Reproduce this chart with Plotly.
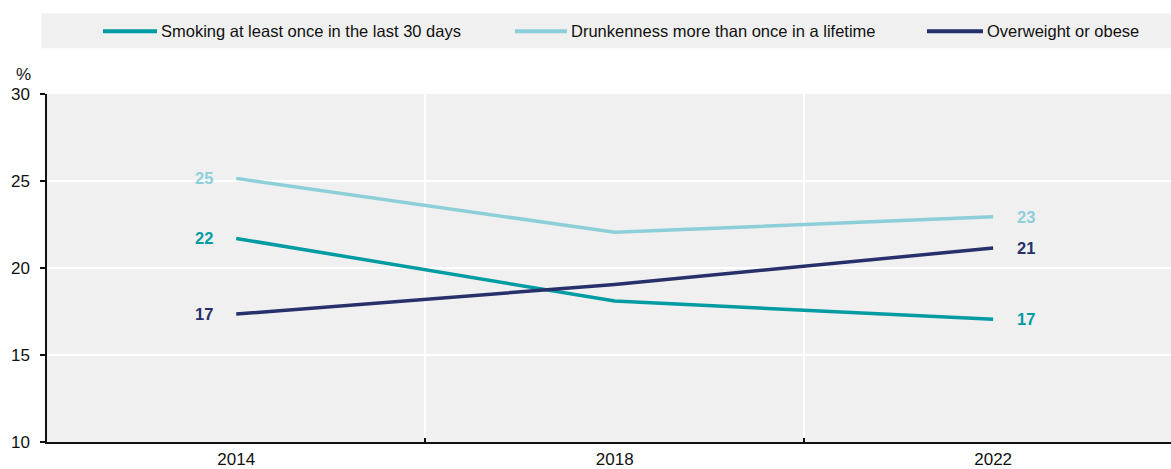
import plotly.graph_objects as go

years = ["2014", "2018", "2022"]
smoking = [21.7, 18.1, 17.05]
drunkenness = [25.15, 22.05, 22.95]
overweight = [17.35, 19.05, 21.15]

series_names = [
    "Smoking at least once in the last 30 days",
    "Drunkenness more than once in a lifetime",
    "Overweight or obese",
]
series_values = [smoking, drunkenness, overweight]
series_colors = ["#009BA3", "#8DCFD9", "#27306A"]

FONT = "Liberation Sans Narrow, Arial Narrow, Liberation Sans, Arial, sans-serif"
xpos = list(range(len(years)))

fig = go.Figure()
for name, vals, col in zip(series_names, series_values, series_colors):
    fig.add_trace(go.Scatter(
        x=xpos, y=vals, mode="lines", name=name,
        line=dict(color=col, width=3.5),
        showlegend=False, hoverinfo="skip",
    ))
    # end-point value labels
    fig.add_annotation(x=xpos[0], y=vals[0], text=f"<b>{vals[0]:.0f}</b>",
                       showarrow=False, xanchor="right", xshift=-21,
                       font=dict(color=col, size=16.5, family=FONT))
    fig.add_annotation(x=xpos[-1], y=vals[-1], text=f"<b>{vals[-1]:.0f}</b>",
                       showarrow=False, xanchor="left", xshift=22,
                       font=dict(color=col, size=16.5, family=FONT))

# legend band across the top
plot_top, plot_h = 94, 350
def py(pix):
    return (plot_top + plot_h - pix) / plot_h

fig.add_shape(type="rect", xref="paper", yref="paper",
              x0=-0.005, x1=1.0, y0=py(48), y1=py(13),
              fillcolor="#F0F0F0", line_width=0, layer="below")
legend_items = [(103, 157), (515, 567), (927, 983)]
plot_left, plot_width = 47, 1124
for (x0, x1), name, col in zip(legend_items, series_names, series_colors):
    fig.add_shape(type="line", xref="paper", yref="paper",
                  x0=(x0 - plot_left) / plot_width, x1=(x1 - plot_left) / plot_width,
                  y0=py(31), y1=py(31), line=dict(color=col, width=4))
    fig.add_annotation(xref="paper", yref="paper",
                       x=(x1 + 2 - plot_left) / plot_width, y=py(31),
                       text=name, showarrow=False, xanchor="left", yanchor="middle",
                       font=dict(size=16.5, color="#111111", family=FONT))

fig.add_annotation(xref="paper", yref="paper", x=-0.0125, y=py(74), text="%",
                   showarrow=False, xanchor="right", yanchor="middle",
                   font=dict(size=17, color="#111111", family=FONT))

fig.update_layout(
    width=1171, height=469,
    margin=dict(l=47, r=0, t=plot_top, b=469 - plot_top - plot_h),
    paper_bgcolor="white", plot_bgcolor="#F0F0F0",
    font=dict(family=FONT, size=17, color="#111111"),
    showlegend=False,
)
fig.update_xaxes(
    range=[-0.5, 2.47], tickvals=xpos, ticktext=years,
    showgrid=False, zeroline=False, showline=True, linecolor="#111111", linewidth=1.5,
    ticks="", ticklen=0, ticklabelstandoff=1,
    minor=dict(tickvals=[0.5, 1.5], showgrid=True, gridcolor="white", gridwidth=2,
               ticks="inside", ticklen=4, tickcolor="#111111", tickwidth=1.5),
)
fig.update_yaxes(
    range=[10, 30], dtick=5, showgrid=True, gridcolor="white", gridwidth=2,
    zeroline=False, showline=True, linecolor="#111111", linewidth=1.5,
    ticks="outside", ticklen=5, tickcolor="#111111", tickwidth=1.5,
    ticklabelstandoff=7,
)

fig.write_html("out.html")
